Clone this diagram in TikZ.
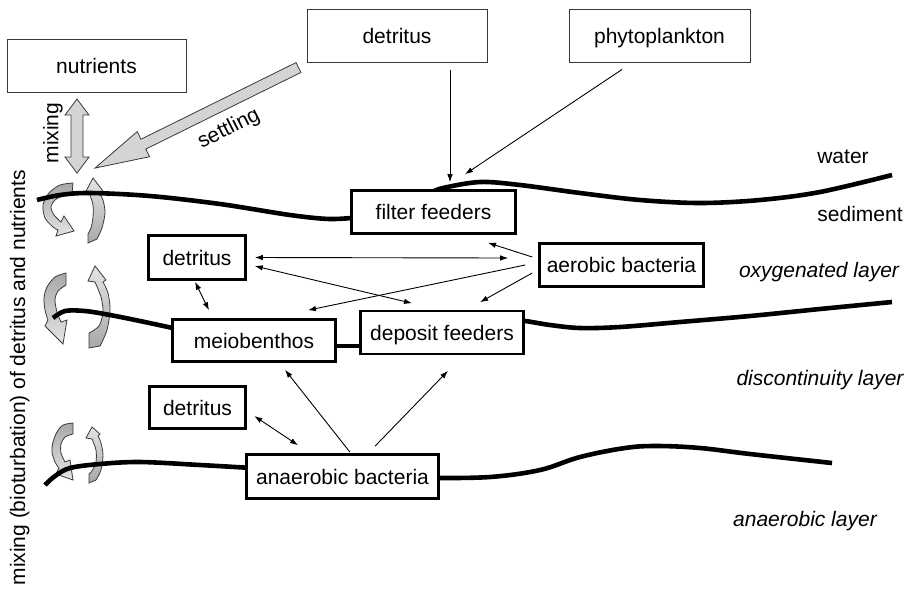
\documentclass[tikz,border=0pt]{standalone}
\usepackage{fontspec}
\setmainfont{Liberation Sans}
\usetikzlibrary{arrows.meta,calc}

\definecolor{bigarrow}{HTML}{D4D4D4}
\definecolor{curldark}{HTML}{A8A8A8}
\definecolor{curllight}{HTML}{E4E4E4}
\definecolor{thinedge}{HTML}{3A3A3A}

\tikzset{
  every node/.style={font=\fontsize{21}{25}\selectfont},
  boxtext/.style={inner sep=0pt, text height=15pt, text depth=0pt},
  plainbox/.style={boxtext, draw=thinedge, line width=1pt, fill=white},
  heavybox/.style={boxtext, draw=black, line width=2.6pt, fill=white},
  conn/.style={line width=0.9pt, -{Latex[length=8pt,width=5.5pt]}},
  twoway/.style={line width=0.9pt, {Latex[length=8pt,width=5.5pt]}-{Latex[length=8pt,width=5.5pt]}},
  interface/.style={line width=4.6pt, black},
  layerlbl/.style={font=\fontsize{21}{25}\selectfont\itshape},
  bigarrowshape/.style={fill=bigarrow, draw=thinedge, line width=0.8pt, line join=miter},
  curldown/.style={draw=thinedge, line width=0.8pt, line join=miter, top color=curldark, bottom color=curllight},
  curlup/.style={draw=thinedge, line width=0.8pt, line join=miter, top color=curllight, bottom color=curldark},
}

\begin{document}
\begin{tikzpicture}[x=1pt, y=-1pt]
\useasboundingbox (0,0) rectangle (912,590);

% --- circulation (bioturbation) ribbons along the left margin
% upper pair
\path[curldown] (73,183) -- plot[smooth] coordinates {(73,183) (60,185) (49,193) (43,205) (45,218) (53,227) (58,230)}
  -- (56,236) -- (74,231) -- (64,216)
  -- plot[smooth] coordinates {(61,222) (54,215) (51,207) (55,200) (63,196) (72,194)} -- cycle;
\path[curlup] (88,243) -- (97,239) -- plot[smooth] coordinates {(97,239) (102,228) (105,213) (103,200) (99,193)}
  -- (103,191) -- (93,178) -- (85,193)
  -- plot[smooth] coordinates {(90,195) (93,205) (93,217) (91,228) (88,234)} -- cycle;
% middle pair
\path[curldown] (66,273) -- plot[smooth] coordinates {(66,273) (55,277) (47,287) (44,298) (45,310) (48,320)}
  -- (45,326) -- (63,344) -- (67,320)
  -- plot[smooth] coordinates {(61,322) (57,312) (55,300) (58,291) (66,285)} -- cycle;
\path[curlup] (89,348) -- (100,346) -- plot[smooth] coordinates {(100,346) (107,330) (110,310) (108,293) (103,282)}
  -- (106,280) -- (95,266) -- (88,281)
  -- plot[smooth] coordinates {(95,282) (101,297) (103,312) (99,326) (89,333)} -- cycle;
% lower pair
\path[curldown] (73,423) -- plot[smooth] coordinates {(73,423) (63,425) (57,432) (53,442) (52,452) (55,462) (59,468)}
  -- (56,474) -- (73,480) -- (70,460)
  -- plot[smooth] coordinates {(65,462) (61,453) (61,444) (65,437) (73,434)} -- cycle;
\path[curlup] (89,483) -- (96,480) -- plot[smooth] coordinates {(96,480) (101,470) (103,455) (101,443) (98,436)}
  -- (100,434) -- (92,427) -- (86,438)
  -- plot[smooth] coordinates {(92,439) (96,450) (96,462) (92,471) (89,474)} -- cycle;

% --- interfaces between water and sediment layers
\draw[interface] plot[smooth, tension=0.55] coordinates {
  (37,200) (60,195) (90,193) (150,196) (220,204) (290,215) (330,219) (362,217)};
\draw[interface] plot[smooth, tension=0.55] coordinates {
  (430,193) (443,188) (480,182) (520,185) (580,193) (640,200)
  (700,203) (760,200) (820,192) (892,175)};
\draw[interface] plot[smooth, tension=0.55] coordinates {
  (53,318) (65,311) (85,311) (110,315) (140,321) (182,330)};
\draw[interface] (330,346) -- (366,346);
\draw[interface] plot[smooth, tension=0.55] coordinates {
  (512,321) (525,321) (550,325) (580,328) (620,327) (680,322) (750,316) (820,309) (892,302)};
\draw[interface] plot[smooth, tension=0.55] coordinates {
  (45,485) (55,476) (70,468) (100,464) (140,462) (200,465) (252,468)};
\draw[interface] plot[smooth, tension=0.6] coordinates {
  (432,478) (490,477) (540,470) (580,457) (625,448) (657,446) (700,448) (750,454) (832,463)};

% --- compartments
\node[plainbox, minimum width=179, minimum height=53] (nut)  at (96.5,65.5) {nutrients};
\node[plainbox, minimum width=180, minimum height=53] (dtop) at (397,35.5) {detritus};
\node[plainbox, minimum width=181, minimum height=53] (phy)  at (659.5,35.5) {phytoplankton};
\node[heavybox, minimum width=164, minimum height=43] (ff)   at (433.5,212) {filter feeders};
\node[heavybox, minimum width=164, minimum height=43] (aero) at (621.5,265) {aerobic bacteria};
\node[heavybox, minimum width=163, minimum height=43] (dep)  at (442,332.5) {deposit feeders};
\node[heavybox, minimum width=97,  minimum height=44] (dmid) at (197,257.5) {detritus};
\node[heavybox, minimum width=163, minimum height=42] (meio) at (254,340.5) {meiobenthos};
\node[heavybox, minimum width=96,  minimum height=42] (dlow) at (197.5,407.5) {detritus};
\node[heavybox, minimum width=192, minimum height=44] (anae) at (342.5,476.5) {anaerobic bacteria};

% --- fluxes between compartments
\draw[conn] ([xshift=53pt,yshift=-7pt]dtop.south) -- ([xshift=16.5pt,yshift=7pt]ff.north);
\draw[conn] ([xshift=-37.5pt,yshift=-7pt]phy.south) -- ([xshift=31.5pt,yshift=15pt]ff.north);
\draw[conn] ([xshift=-6pt,yshift=8pt]aero.west) -- ([xshift=54.5pt,yshift=-8pt]ff.south);
\draw[twoway] ([xshift=8pt]dmid.east) -- ([xshift=-30pt,yshift=7pt]aero.west);
\draw[twoway] ([xshift=8pt,yshift=-8.5pt]dmid.east) -- ([xshift=-30pt,yshift=6.5pt]dep.north);
\draw[conn] ([xshift=-13pt]aero.west) -- ([xshift=54pt,yshift=8pt]meio.north);
\draw[conn] ([xshift=-6pt,yshift=-8pt]aero.west) -- ([xshift=38pt,yshift=7.5pt]dep.north);
\draw[twoway] ([xshift=-2pt,yshift=-1pt]dmid.south) -- ([xshift=-45pt,yshift=8pt]meio.north);
\draw[twoway] ([xshift=7.5pt,yshift=-8.5pt]dlow.east) -- ([xshift=-44.5pt,yshift=8pt]anae.north);
\draw[conn] ([xshift=7.5pt,yshift=1pt]anae.north) -- ([xshift=31pt,yshift=-7pt]meio.south);
\draw[conn] ([xshift=32.5pt,yshift=7pt]anae.north) -- ([xshift=6pt,yshift=-15.5pt]dep.south);

% --- settling of detritus
\begin{scope}[shift={(298.5,67.5)}, rotate=206.3]
  \filldraw[bigarrowshape] (0,5.5) -- (173,5.5) -- (173,14) -- (227,0)
    -- (173,-14) -- (173,-5.5) -- (0,-5.5) -- cycle;
\end{scope}
\node[rotate=27] (setlbl) at (229,129) {settling};

% --- mixing of nutrients across the interface
\filldraw[bigarrowshape] (71,115) -- (71,157) -- (65,157) -- (77,173) -- (89,157)
  -- (83,157) -- (83,115) -- (89,115) -- (77,99) -- (65,115) -- cycle;
\node[rotate=90] (mixlbl) at (53,133) {mixing};

\node[rotate=90, anchor=base west] (biolbl) at (25,589)
  {mixing (bioturbation) of detritus and nutrients};

% --- layer names
\node (water) at (843,157) {water};
\node (sed)   at (860,214) {sediment};
\node[layerlbl] (oxy)  at (819,272) {oxygenated layer};
\node[layerlbl] (disc) at (820,380) {discontinuity layer};
\node[layerlbl] (anl)  at (805,521) {anaerobic layer};
\end{tikzpicture}
\end{document}
